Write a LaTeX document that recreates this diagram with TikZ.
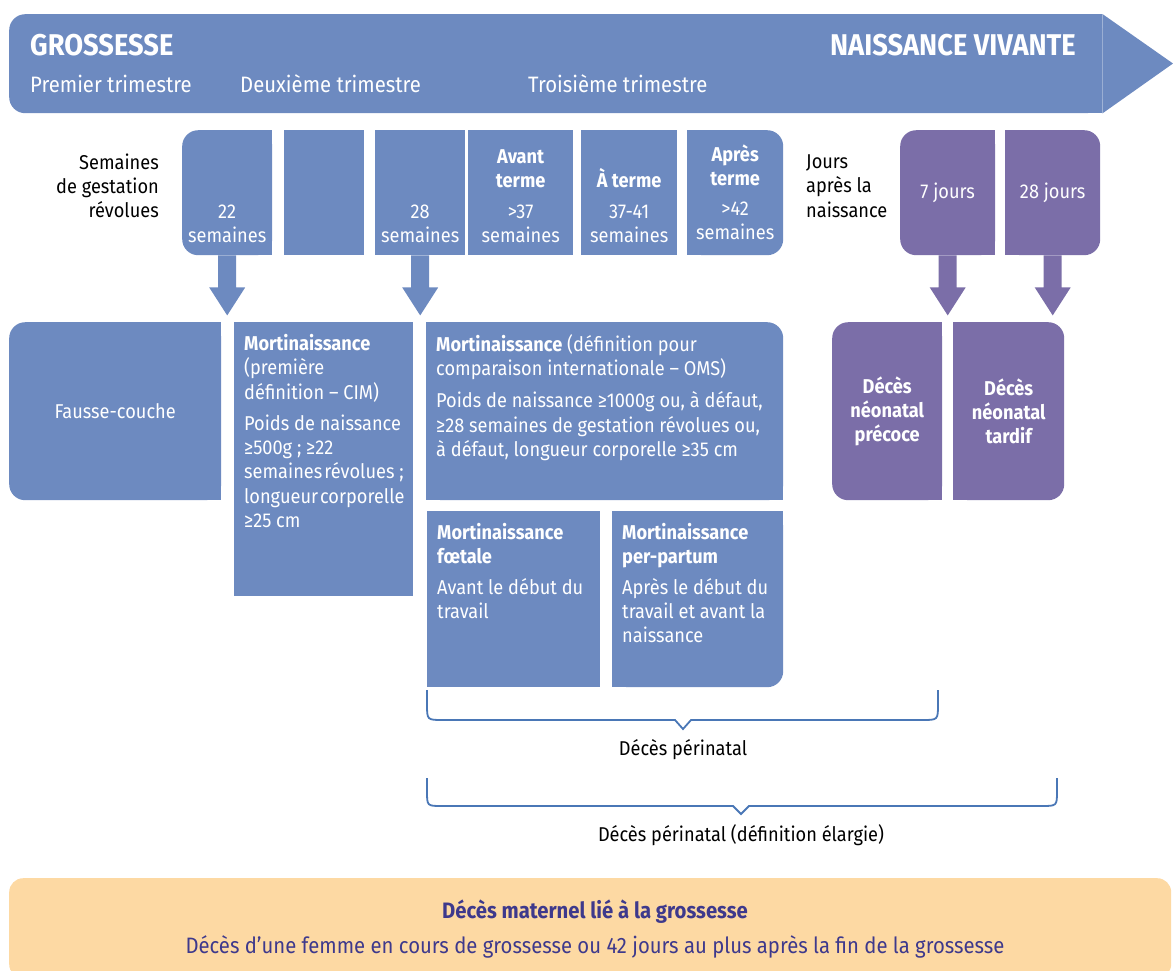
\documentclass[tikz,border=0pt]{standalone}
\usepackage{fontspec}
\setmainfont{Fira Sans}[FakeStretch=0.91]
\usepackage{tikz}
\usetikzlibrary{positioning,backgrounds}
\definecolor{gblue}{RGB}{109,138,192}
\definecolor{gviolet}{RGB}{123,110,168}
\definecolor{gsand}{RGB}{253,217,163}
\definecolor{gink}{RGB}{62,57,140}
\definecolor{gbrace}{RGB}{74,119,182}
\newcommand{\txtsize}{\fontsize{20pt}{24.3pt}\selectfont}
\newcommand{\bigsize}{\fontsize{22.3pt}{26pt}\selectfont}
\newcommand{\dropArrow}[2]{% block arrow hanging under a box
  \fill[#2] ([xshift=-9pt]#1) -- ++(18,0) -- ++(0,32) -- ++(9,0) -- ++(-18,28) -- ++(-18,-28) -- ++(9,0) -- cycle;}

\begin{document}
\begin{tikzpicture}[
    % GLOBAL CFG
    x=1pt, y=-1pt,
    % Styles
    card/.style={% coloured blocks
        rectangle,
        rounded corners=16pt,
        inner sep=0pt,
        anchor=north west,
        fill=#1,
        },
    card/.default=gblue,
    flat/.style={% blocks with square corners
        card=#1,
        sharp corners,
        },
    flat/.default=gblue,
    wtxt/.style={% white text in the blocks
        text=white,
        inner sep=0pt,
        font=\txtsize,
        },
    ktxt/.style={% black captions
        text=black,
        inner sep=0pt,
        font=\txtsize,
        },
    brace/.style={% curly brackets under the boxes
        draw=gbrace,
        line width=1.8pt,
        },
    ]
\useasboundingbox (0,0) rectangle (1173,970);

%Banner
    \node [card, minimum width=1093pt, minimum height=99pt] (band) at (9,14) {};
    \coordinate (tip) at (1173,63.5);
    \fill [gblue] (band.north east) -- (tip) -- (band.south east) -- cycle;
    \node [wtxt, font=\fontsize{30pt}{34pt}\selectfont\bfseries, anchor=base west] (gros) at (30,55) {GROSSESSE};
    \node [wtxt, font=\fontsize{30pt}{34pt}\selectfont\bfseries, anchor=base east] (naiss) at (1076,55) {NAISSANCE VIVANTE};
    \node [wtxt, font=\bigsize, anchor=base west] (tri1) at (30,92) {Premier trimestre};
    \node [wtxt, font=\bigsize, anchor=base west] (tri2) at (240,92) {Deuxième trimestre};
    \node [wtxt, font=\bigsize, anchor=base west] (tri3) at (528,92) {Troisième trimestre};

% Weeks and days
    \node [ktxt, align=right, anchor=east] (semlbl) at (159,186) {Semaines\\de gestation\\révolues};
    \node [card, minimum width=90pt, minimum height=125pt] (w22) at (182,130) {};
    \node [flat, minimum width=80pt, minimum height=125pt] (wmid) at (284,130) {};
    \node [flat, minimum width=90pt, minimum height=125pt] (w28) at (375,130) {};
    \node [flat, minimum width=105pt, minimum height=125pt] (avant) at (468,130) {};
    \node [flat, minimum width=96pt, minimum height=125pt] (aterme) at (581,130) {};
    \node [card, minimum width=96pt, minimum height=125pt] (apres) at (687,130) {};
    \node [wtxt, align=center, anchor=south] (t22) at ([yshift=12pt]w22.south) {22\\semaines};
    \node [wtxt, align=center, anchor=south] (t28) at ([yshift=12pt]w28.south) {28\\semaines};
    \node [wtxt, align=center, anchor=south] (tavant) at ([yshift=12pt]avant.south) {\textbf{Avant}\\\textbf{terme}\\[7pt]>37\\semaines};
    \node [wtxt, align=center, anchor=south] (taterme) at ([yshift=12pt]aterme.south) {\textbf{À terme}\\[7pt]37-41\\semaines};
    \node [wtxt, align=center, anchor=south] (tapres) at ([yshift=15pt]apres.south) {\textbf{Après}\\\textbf{terme}\\[6pt]>42\\semaines};

    \node [ktxt, align=left, anchor=west] (jourlbl) at (806,186) {Jours\\après la\\naissance};
    \node [card=gviolet, minimum width=95pt, minimum height=125pt] (j7) at (900,130) {};
    \node [card=gviolet, minimum width=95pt, minimum height=125pt] (j28) at (1005,130) {};
    \node [wtxt] (tj7) at (j7.center) {7 jours};
    \node [wtxt] (tj28) at (j28.center) {28 jours};

% Definitions
    \node [card, minimum width=212pt, minimum height=178pt] (fausse) at (9,322) {};
    \node [wtxt] (tfausse) at (fausse.center) {Fausse-couche};
    \node [flat, minimum width=179pt, minimum height=274pt] (cim) at (234,322) {};
    \node [wtxt, align=left, anchor=north west] (tcim) at ([shift={(10pt,-12pt)}]cim.north west)
        {\textbf{Mortinaissance}\\(première\\définition – CIM)\\[7pt]Poids de naissance\\≥500g ; ≥22\\semaines\hspace{2pt}révolues ;\\longueur\hspace{2pt}corporelle\\≥25 cm};
    \node [card, minimum width=357pt, minimum height=178pt] (oms) at (426,322) {};
    \node [wtxt, align=left, anchor=north west] (toms) at ([shift={(10pt,-12pt)}]oms.north west)
        {\textbf{Mortinaissance} (définition pour\\comparaison internationale – OMS)\\[8pt]Poids de naissance ≥1000g ou, à défaut,\\≥28 semaines de gestation révolues ou,\\à défaut, longueur corporelle ≥35 cm};
    \node [flat, minimum width=173pt, minimum height=176pt] (foet) at (427,511) {};
    \node [wtxt, align=left, anchor=north west] (tfoet) at ([shift={(10pt,-12pt)}]foet.north west)
        {\textbf{Mortinaissance}\\\textbf{fœtale}\\[6pt]Avant le début du\\travail};
    \node [card, minimum width=171pt, minimum height=176pt] (perp) at (612,511) {};
    \node [wtxt, align=left, anchor=north west] (tperp) at ([shift={(10pt,-12pt)}]perp.north west)
        {\textbf{Mortinaissance}\\\textbf{per-partum}\\[6pt]Après le début du\\travail et avant la\\naissance};
    \node [card=gviolet, minimum width=110pt, minimum height=178pt] (precoce) at (832,322) {};
    \node [wtxt, align=center, font=\txtsize\bfseries] (tprecoce) at (precoce.center) {Décès\\néonatal\\précoce};
    \node [card=gviolet, minimum width=111pt, minimum height=178pt] (tardif) at (953,322) {};
    \node [wtxt, align=center, font=\txtsize\bfseries] (ttardif) at (tardif.center) {Décès\\néonatal\\tardif};

    % Square off the corners that are not round
    \begin{scope}[on background layer]
    \foreach \n/\c in {band/north east, band/south east, w22/north east, w22/south east,
        apres/north west, apres/south west, fausse/north east, fausse/south east,
        oms/north west, oms/south west, oms/south east,
        perp/north west, perp/south west, perp/north east}
        \fill [gblue] (\n.center) rectangle (\n.\c);
    \foreach \n/\c in {j7/north east, j7/south east, j28/north west, j28/south west,
        precoce/north east, precoce/south east, tardif/north west, tardif/south west}
        \fill [gviolet] (\n.center) rectangle (\n.\c);
    \end{scope}

% Arrows
    \dropArrow{w22.south}{gblue}
    \dropArrow{w28.south}{gblue}
    \dropArrow{j7.south}{gviolet}
    \dropArrow{j28.south}{gviolet}

% Braces
    \coordinate (dip1) at (683,729);
    \coordinate (dip2) at (741,814);
    \draw [brace] (427,690) -- (427,704) .. controls (427,720) .. (443,720) -- (675,720) -- (dip1)
        -- (691,720) -- (922,720) .. controls (938,720) .. (938,704) -- (938,690);
    \draw [brace] (427,778) -- (427,791) .. controls (427,806) .. (442,806) -- (733,806) -- (dip2)
        -- (749,806) -- (1041,806) .. controls (1057,806) .. (1057,791) -- (1057,778);
    \node [ktxt, below=10pt of dip1] (peri) {Décès périnatal};
    \node [ktxt, below=10pt of dip2] (perilarge) {Décès périnatal (définition élargie)};

% Maternal death
    \node [card=gsand, rounded corners=14pt, minimum width=1162pt, minimum height=100pt] (mat) at (9,878) {};
    \node [ktxt, text=gink, font=\bigsize\bfseries, anchor=base] (tmat1) at (595,918) {Décès maternel lié à la grossesse};
    \node [ktxt, text=gink, font=\bigsize, anchor=base] (tmat2) at (595,953) {Décès d’une femme en cours de grossesse ou 42 jours au plus après la fin de la grossesse};

\end{tikzpicture}
\end{document}
